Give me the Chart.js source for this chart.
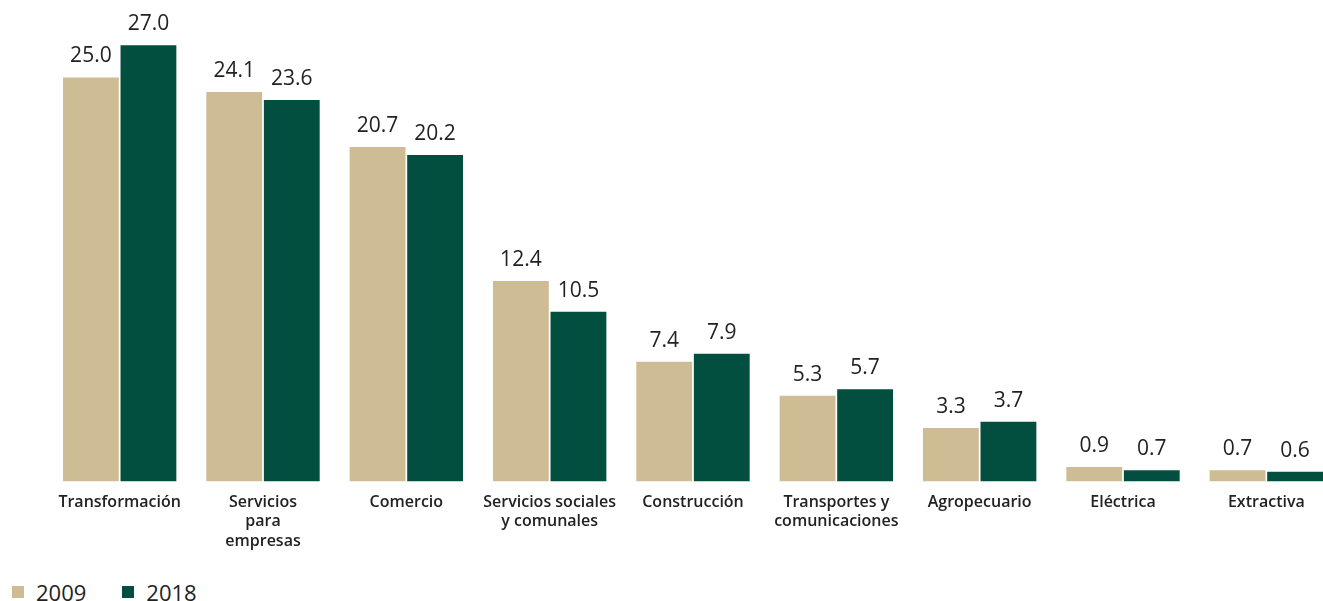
<!DOCTYPE html>
<html>
<head>
<meta charset="utf-8">
<script src="https://cdn.jsdelivr.net/npm/chart.js@4/dist/chart.umd.min.js"></script>
<style>
  html, body { margin: 0; padding: 0; background: #fff; overflow: hidden; }
  #wrap { position: relative; width: 1323px; height: 601px; overflow: hidden; }
  #box { position: absolute; left: 0; top: 0; width: 1345px; height: 562px; }
  #legend { position: absolute; left: 12px; top: 577px; display: flex; font-family: "Open Sans", sans-serif; font-size: 22px; color: #222; }
  #legend span.item { display: flex; align-items: center; margin-right: 36px; }
  #legend span.sw { width: 12px; height: 12px; margin-right: 12px; display: inline-block; }
</style>
</head>
<body>
<div id="wrap">
  <div id="box"><canvas id="chart"></canvas></div>
  <div id="legend"></div>
</div>
<script>
// Sectors and share values per year
const sectors = [
  "Transformación", ["Servicios", "para", "empresas"], "Comercio",
  ["Servicios sociales", "y comunales"], "Construcción",
  ["Transportes y", "comunicaciones"], "Agropecuario", "Eléctrica", "Extractiva"
];
const years = ["2009", "2018"];
const values2009 = [25.0, 24.1, 20.7, 12.4, 7.4, 5.3, 3.3, 0.9, 0.7];
const values2018 = [27.0, 23.6, 20.2, 10.5, 7.9, 5.7, 3.7, 0.7, 0.6];
const colors = ["#CDBC94", "#024F40"];

// value labels above each bar
const barLabels = {
  id: 'barLabels',
  afterDatasetsDraw(chart) {
    const ctx = chart.ctx;
    ctx.save();
    ctx.font = '400 21px "Open Sans", sans-serif';
    ctx.fillStyle = '#222';
    ctx.textAlign = 'center';
    ctx.textBaseline = 'alphabetic';
    chart.data.datasets.forEach((ds, i) => {
      chart.getDatasetMeta(i).data.forEach((bar, j) => {
        ctx.fillText(ds.data[j].toFixed(1), bar.x, bar.y - 15);
      });
    });
    ctx.restore();
  }
};

const chart = new Chart(document.getElementById('chart'), {
  type: 'bar',
  data: {
    labels: sectors,
    datasets: [
      { label: years[0], data: values2009, backgroundColor: colors[0] },
      { label: years[1], data: values2018, backgroundColor: colors[1] }
    ]
  },
  options: {
    responsive: true,
    maintainAspectRatio: false,
    animation: false,
    categoryPercentage: 0.803,
    barPercentage: 0.97,
    layout: { padding: { left: 48, right: 7, top: 29, bottom: 0 } },
    plugins: {
      legend: { display: false },
      tooltip: { enabled: false }
    },
    scales: {
      x: {
        grid: { display: false, drawTicks: false },
        border: { display: false },
        ticks: {
          color: '#222',
          padding: 11,
          maxRotation: 0,
          autoSkip: false,
          font: { family: '"Open Sans", sans-serif', size: 16, weight: '600', lineHeight: 1.22 }
        }
      },
      y: {
        display: false,
        min: 0,
        max: 28
      }
    }
  },
  plugins: [barLabels]
});

// legend row under the chart
const legend = document.getElementById('legend');
years.forEach((y, i) => {
  const item = document.createElement('span');
  item.className = 'item';
  const sw = document.createElement('span');
  sw.className = 'sw';
  sw.style.background = colors[i];
  item.appendChild(sw);
  item.appendChild(document.createTextNode(y));
  legend.appendChild(item);
});
</script>
</body>
</html>
